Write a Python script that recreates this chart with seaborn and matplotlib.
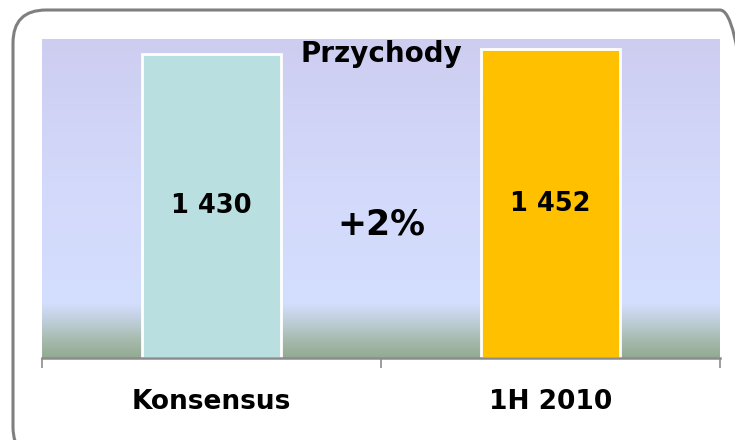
import numpy as np
import pandas as pd
import matplotlib
matplotlib.use("Agg")
import matplotlib.pyplot as plt
import seaborn as sns
from matplotlib.colors import LinearSegmentedColormap
from matplotlib.patches import FancyBboxPatch

# Data
categories = ["Konsensus", "1H 2010"]
values = [1430, 1452]
bar_colors = ["#b9dfe0", "#ffc000"]
title = "Przychody"

sns.set_theme(style="white")
plt.rcParams['font.family'] = ['DejaVu Sans']

df = pd.DataFrame({"cat": categories, "val": values})

fig = plt.figure(figsize=(7.35, 4.4), dpi=100)
fig.patch.set_facecolor("white")

# rounded frame round the whole chart
frame = FancyBboxPatch((13 / 735, -20 / 440), 740 / 735, 450 / 440,
                       boxstyle="round,pad=0,rounding_size=0.045",
                       transform=fig.transFigure, facecolor="none",
                       edgecolor="#7f7f7f", linewidth=2.2, zorder=-5,
                       mutation_aspect=735 / 440)
fig.patches.append(frame)

ax = fig.add_axes([42 / 735, 82 / 440, 678 / 735, 319 / 440])

# gradient plot-area background (bottom -> top)
grad = LinearSegmentedColormap.from_list("bg", [
    (0.00, (146 / 255, 170 / 255, 146 / 255)),
    (0.05, (165 / 255, 185 / 255, 170 / 255)),
    (0.11, (190 / 255, 205 / 255, 215 / 255)),
    (0.17, (212 / 255, 222 / 255, 254 / 255)),
    (0.55, (211 / 255, 217 / 255, 250 / 255)),
    (1.00, (205 / 255, 205 / 255, 240 / 255)),
])
ax.imshow(np.linspace(0, 1, 256).reshape(-1, 1), cmap=grad, origin="lower",
          extent=[0, 1, 0, 1], transform=ax.transAxes, aspect="auto", zorder=0)

sns.barplot(data=df, x="cat", y="val", hue="cat", palette=bar_colors,
            width=0.41, edgecolor="white", linewidth=2, legend=False,
            saturation=1, ax=ax, zorder=2)

ax.set_xlim(-0.5, 1.5)
ax.set_ylim(0, 1500)
ax.set_xlabel("")
ax.set_ylabel("")
ax.set_yticks([])

for s in ["top", "left", "right"]:
    ax.spines[s].set_visible(False)
ax.spines["bottom"].set_color("#8c8c8c")
ax.spines["bottom"].set_linewidth(1.8)
ax.spines["bottom"].set_zorder(3)

# category labels at bar centres, tick marks at category borders
ax.set_xticks(range(len(categories)))
ax.set_xticklabels(categories, fontsize=19, fontweight="bold", color="black")
ax.tick_params(axis="x", which="major", length=0, pad=22)
ax.set_xticks(np.arange(-0.5, len(categories), 1), minor=True)
ax.tick_params(axis="x", which="minor", bottom=True, length=7, width=1.2,
               color="#8c8c8c", direction="out")

# value labels inside the bars
for i, v in enumerate(values):
    ax.text(i, v / 2, f"{v:,}".replace(",", " "), ha="center", va="center",
            fontsize=18.5, fontweight="bold", color="black", zorder=4)

pct = (values[1] / values[0] - 1) * 100
ax.text(0.5, values[0] / 2 - 85, f"+{pct:.0f}%", ha="center", va="center",
        fontsize=25, fontweight="bold", color="black", zorder=4)

ax.text(0.5, 0.998, title, transform=ax.transAxes, ha="center", va="top",
        fontsize=20, fontweight="bold", color="black", zorder=4)

fig.savefig("out.png", dpi=100)
